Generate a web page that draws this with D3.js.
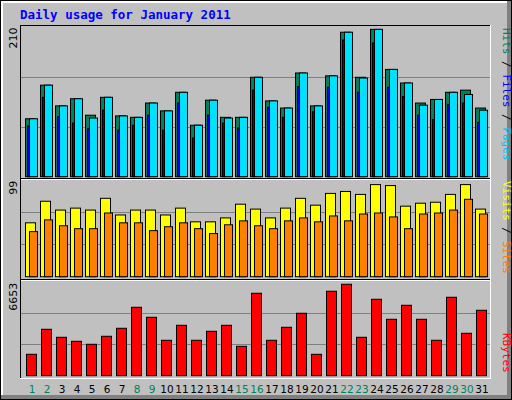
<!DOCTYPE html><html><head><meta charset="utf-8">
<script src="https://cdn.jsdelivr.net/npm/d3@7"></script>
<style>body{margin:0}svg{display:block}</style></head><body><svg width="512" height="400"></svg>
<script>
const days=d3.range(1,32);
const weekend=[1,2,8,9,15,16,22,23,29,30];
const hits=[81,128,99,109,86,111,85,83,103,92,118,72,107,83,83,139,106,96,145,99,141,202,139,206,150,131,103,108,118,121,96];
const files=[81,128,99,109,82,111,85,83,103,92,118,72,107,82,83,139,106,96,145,99,141,202,138,206,150,131,100,108,118,115,93];
const pages=[71,111,84,75,67,93,65,72,86,65,103,54,86,75,68,121,97,83,126,91,125,191,118,187,125,112,86,80,101,103,76];
const visits=[55,77,68,70,68,80,63,68,68,63,70,56,56,60,74,69,60,70,80,73,85,87,84,94,93,72,75,76,84,94,69];
const sites=[46,58,52,49,49,65,55,55,47,51,55,49,44,53,57,52,49,57,60,56,62,57,64,65,61,49,64,65,68,79,64];
const kbytes=[1515,3285,2719,2436,2223,2790,3356,4843,4135,2506,3568,2506,3144,3568,2082,5834,2506,3427,4418,1515,5976,6471,2719,5409,3993,4984,3993,2506,5551,3002,4630];
const maxLabels=["210","99","6653"];

const svg=d3.select("svg");
svg.append("rect").attr("width",512).attr("height",400).attr("fill","#000");
svg.append("rect").attr("x",1).attr("y",1).attr("width",510).attr("height",398).attr("fill","#808080");
svg.append("rect").attr("x",1).attr("y",1).attr("width",506).attr("height",394).attr("fill","#fff");
svg.append("rect").attr("x",3).attr("y",3).attr("width",504).attr("height",392).attr("fill","#c0c0c0");
// inner frame
svg.append("rect").attr("x",20).attr("y",25).attr("width",471).attr("height",354).attr("fill","#fff");
svg.append("rect").attr("x",20).attr("y",25).attr("width",470).attr("height",353).attr("fill","#000");
svg.append("rect").attr("x",21).attr("y",26).attr("width",469).attr("height",352).attr("fill","#c0c0c0");
[178,279].forEach(y=>{
  svg.append("rect").attr("x",21).attr("y",y).attr("width",469).attr("height",1).attr("fill","#000");
  svg.append("rect").attr("x",21).attr("y",y+1).attr("width",469).attr("height",1).attr("fill","#fff");
});
svg.append("text").attr("x",20).attr("y",19).attr("fill","#0000ff")
  .attr("font-family","DejaVu Sans Mono").attr("font-weight","bold").attr("font-size",12.5)
  .text("Daily usage for January 2011");

const x=d3.scaleLinear().domain([1,32]).range([25,490]);
const panels=[
 {top:26.5,base:176.7,max:210},
 {top:179.7,base:276.7,max:99},
 {top:281.7,base:375.7,max:6653}];
panels.forEach((p,i)=>{
  p.y=d3.scaleLinear().domain([0,p.max]).range([p.base,p.top]);
  [1/3,2/3].forEach(f=>svg.append("line").attr("x1",21).attr("x2",490)
    .attr("y1",Math.round(p.y(p.max*f))+0.5).attr("y2",Math.round(p.y(p.max*f))+0.5).attr("stroke","#808080"));
  svg.append("text").attr("transform",`translate(17,${p.top+1}) rotate(-90)`).attr("text-anchor","end")
    .attr("font-family","DejaVu Sans").attr("font-size",11).attr("fill","#000").text(maxLabels[i]);
});
function bars(data,p,off,w,fill){
  svg.append("g").selectAll("rect").data(data).join("rect")
   .attr("x",(d,i)=>x(days[i])+off+0.5).attr("width",w)
   .attr("y",d=>p.y(d)).attr("height",d=>p.base-p.y(d))
   .attr("fill",fill).attr("stroke","#000").attr("stroke-width",1);
}
bars(hits,panels[0],0,10,"#00805c");
bars(pages,panels[0],2,2,"#0000ff");
bars(files,panels[0],4,8,"#00e0ff");
// redraw pages partially visible: pages drawn before files, files overlaps; keep order like webalizer
bars(visits,panels[1],0,10,"#ffff00");
bars(sites,panels[1],4,8,"#ff8000");
bars(kbytes,panels[2],1,10,"#ff0000");

svg.append("g").selectAll("text").data(days).join("text")
 .attr("x",d=>x(d)+7).attr("y",393).attr("text-anchor","middle")
 .attr("font-family","DejaVu Sans").attr("font-size",10.5)
 .attr("fill",d=>weekend.includes(d)?"#00805c":"#000").text(d=>d);

function rlabel(y,parts){
  const t=svg.append("text").attr("transform",`translate(503,${y}) rotate(90)`)
   .attr("font-family","DejaVu Sans Mono").attr("font-size",11);
  parts.forEach(([s,c])=>t.append("tspan").attr("fill",c).text(s));
}
rlabel(28,[["Hits","#00805c"],[" / ","#000"],["Files","#0000ff"],[" / ","#000"],["Pages","#00c0ff"]]);
rlabel(181,[["Visits","#ffff00"],[" / ","#000"],["Sites","#ff8000"]]);
rlabel(333,[["KBytes","#ff0000"]]);
</script></body></html>
